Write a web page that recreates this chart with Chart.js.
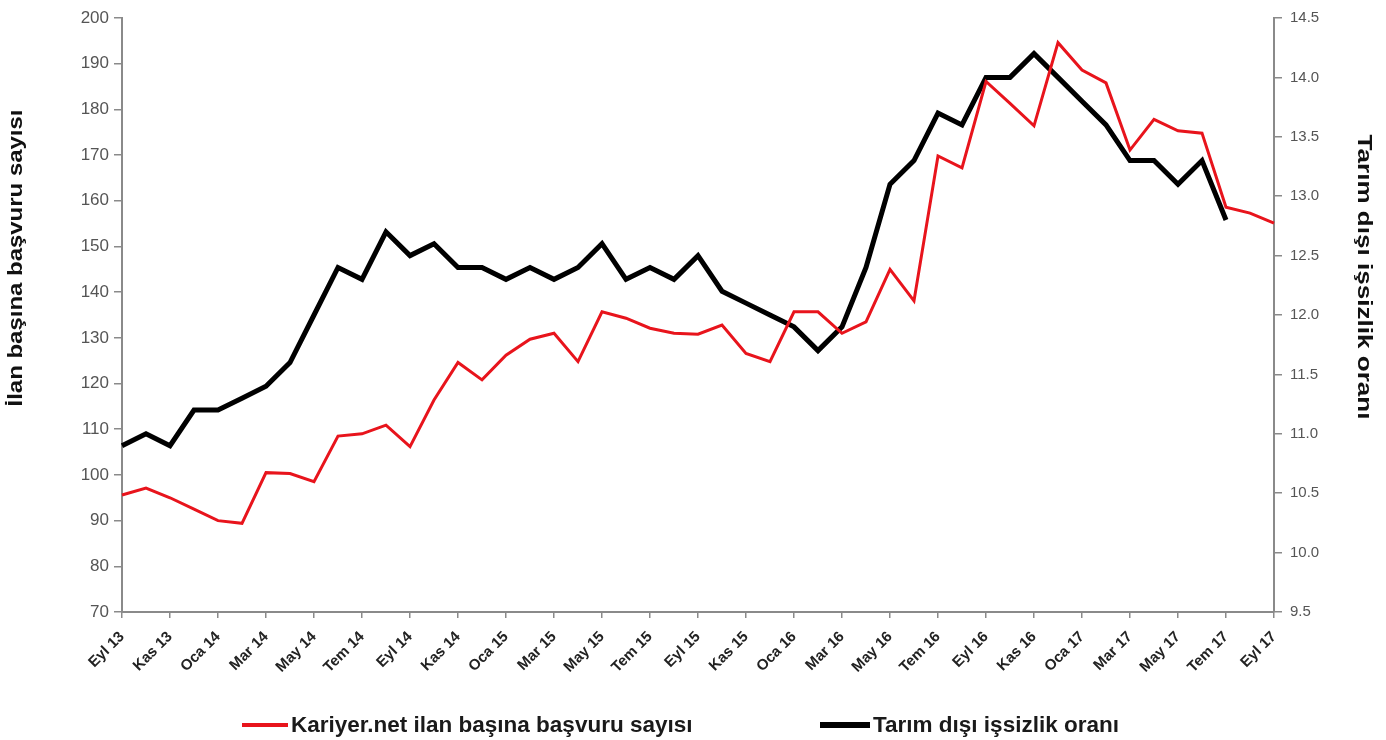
<!DOCTYPE html>
<html>
<head>
<meta charset="utf-8">
<script src="https://cdn.jsdelivr.net/npm/chart.js@4.4.1/dist/chart.umd.min.js"></script>
<style>
  html, body { margin: 0; padding: 0; background: #fff; }
  #wrap { position: relative; width: 1386px; height: 740px; }
  #legend { position: absolute; left: 0; top: 710px; width: 1386px; height: 30px;
    font-family: "Liberation Sans", Arial, sans-serif;
    font-weight: bold; font-size: 22.5px; color: #1a1a1a; }
  .item { position: absolute; top: 0; display: flex; align-items: center; height: 30px; white-space: nowrap; }
  .sw { display: inline-block; margin-right: 3px; }
</style>
</head>
<body>
<div id="wrap">
  <canvas id="c" width="1386" height="740"></canvas>
  <div id="legend"></div>
</div>
<script>
const categories = ["Eyl 13","Eki 13","Kas 13","Ara 13","Oca 14","Şub 14","Mar 14","Nis 14","May 14","Haz 14","Tem 14","Ağu 14",
  "Eyl 14","Eki 14","Kas 14","Ara 14","Oca 15","Şub 15","Mar 15","Nis 15","May 15","Haz 15","Tem 15","Ağu 15",
  "Eyl 15","Eki 15","Kas 15","Ara 15","Oca 16","Şub 16","Mar 16","Nis 16","May 16","Haz 16","Tem 16","Ağu 16",
  "Eyl 16","Eki 16","Kas 16","Ara 16","Oca 17","Şub 17","Mar 17","Nis 17","May 17","Haz 17","Tem 17","Ağu 17","Eyl 17"];

const basvuruSayisi = [95.6, 97.1, 95.0, 92.5, 90.0, 89.4, 100.5, 100.3, 98.5, 108.5, 109.0, 110.9,
  106.2, 116.4, 124.6, 120.8, 126.2, 129.7, 131.0, 124.8, 135.7, 134.3, 132.1, 131.0,
  130.8, 132.8, 126.6, 124.8, 135.7, 135.7, 131.0, 133.5, 145.0, 138.1, 169.8, 167.2,
  186.1, 181.3, 176.4, 194.6, 188.6, 185.8, 171.1, 177.8, 175.3, 174.8, 158.6, 157.3, 155.1];

const issizlikOrani = [10.9, 11.0, 10.9, 11.2, 11.2, 11.3, 11.4, 11.6, 12.0, 12.4, 12.3, 12.7,
  12.5, 12.6, 12.4, 12.4, 12.3, 12.4, 12.3, 12.4, 12.6, 12.3, 12.4, 12.3,
  12.5, 12.2, 12.1, 12.0, 11.9, 11.7, 11.9, 12.4, 13.1, 13.3, 13.7, 13.6,
  14.0, 14.0, 14.2, 14.0, 13.8, 13.6, 13.3, 13.3, 13.1, 13.3, 12.8, null, null];

const leftTicks = [70, 80, 90, 100, 110, 120, 130, 140, 150, 160, 170, 180, 190, 200];
const rightTicks = [9.5, 10.0, 10.5, 11.0, 11.5, 12.0, 12.5, 13.0, 13.5, 14.0, 14.5];

const seriesNames = ["Kariyer.net ilan başına başvuru sayısı", "Tarım dışı işsizlik oranı"];
const leftTitle = "İlan başına başvuru sayısı";
const rightTitle = "Tarım dışı işsizlik oranı";
const seriesColors = ["#e8141c", "#000000"];
const seriesWidths = [3, 5];

const axisColor = "#8a8a8a";
const FAM = "'Liberation Sans', Arial, sans-serif";

// Draws the two axis titles (real text) centred where the reference places them.
const axisTitlePlugin = {
  id: "axisTitles",
  afterDraw(chart) {
    const ctx = chart.ctx;
    const draw = (text, cx, cy, rot, len) => {
      ctx.save();
      ctx.font = "bold 20px " + FAM;
      ctx.fillStyle = "#111";
      ctx.textAlign = "center";
      ctx.textBaseline = "middle";
      ctx.translate(cx, cy);
      ctx.rotate(rot);
      const w = ctx.measureText(text).width;
      ctx.scale(len / w, 1);
      ctx.fillText(text, 0, 0);
      ctx.restore();
    };
    draw(leftTitle, 16, 258, -Math.PI / 2, 297);
    draw(rightTitle, 1364, 277, Math.PI / 2, 285);
  }
};

new Chart(document.getElementById("c"), {
  type: "line",
  data: {
    labels: categories,
    datasets: [
      { label: seriesNames[0], data: basvuruSayisi, yAxisID: "y", borderColor: seriesColors[0],
        backgroundColor: seriesColors[0], borderWidth: seriesWidths[0], pointRadius: 0, tension: 0,
        borderJoinStyle: "miter", spanGaps: false },
      { label: seriesNames[1], data: issizlikOrani, yAxisID: "y2", borderColor: seriesColors[1],
        backgroundColor: seriesColors[1], borderWidth: seriesWidths[1], pointRadius: 0, tension: 0,
        borderJoinStyle: "miter", spanGaps: false }
    ]
  },
  plugins: [axisTitlePlugin],
  options: {
    responsive: false,
    animation: false,
    layout: { padding: { top: 18, left: 0, right: 0, bottom: 0 } },
    plugins: { legend: { display: false }, tooltip: { enabled: false } },
    scales: {
      x: {
        offset: false,
        border: { display: true, color: axisColor, width: 2 },
        grid: { drawOnChartArea: false, tickLength: 6,
          color: (ctx) => (ctx.index % 2 === 0 ? axisColor : "rgba(0,0,0,0)"), lineWidth: 1.5 },
        ticks: { autoSkip: false, maxRotation: 45, minRotation: 45, padding: 10,
          color: "#222", font: { family: FAM, size: 15, weight: "bold" },
          callback: function (v, i) { return i % 2 === 0 ? categories[i] : ""; } },
        afterFit: (s) => { s.height = 128; }
      },
      y: {
        position: "left", min: 70, max: 200,
        afterBuildTicks: (s) => { s.ticks = leftTicks.map(v => ({ value: v })); },
        border: { display: true, color: axisColor, width: 2 },
        grid: { drawOnChartArea: false, tickLength: 8, color: axisColor, lineWidth: 1.5 },
        ticks: { color: "#555", font: { family: FAM, size: 17 }, padding: 5 },
        afterFit: (s) => { s.width = 122; }
      },
      y2: {
        position: "right", min: 9.5, max: 14.5,
        afterBuildTicks: (s) => { s.ticks = rightTicks.map(v => ({ value: v })); },
        border: { display: true, color: axisColor, width: 2 },
        grid: { drawOnChartArea: false, tickLength: 8, color: axisColor, lineWidth: 1.5 },
        ticks: { color: "#555", font: { family: FAM, size: 15 }, padding: 8, callback: (v) => Number(v).toFixed(1) },
        afterFit: (s) => { s.width = 112; }
      }
    }
  }
});

// HTML legend
const lg = document.getElementById("legend");
const lefts = [242, 820];
const swWidths = [46, 50];
seriesNames.forEach((name, i) => {
  const it = document.createElement("div");
  it.className = "item";
  it.style.left = lefts[i] + "px";
  const sw = document.createElement("span");
  sw.className = "sw";
  sw.style.width = swWidths[i] + "px";
  sw.style.height = (seriesWidths[i] + 1) + "px";
  sw.style.background = seriesColors[i];
  const tx = document.createElement("span");
  tx.textContent = name;
  it.appendChild(sw); it.appendChild(tx);
  lg.appendChild(it);
});
</script>
</body>
</html>
